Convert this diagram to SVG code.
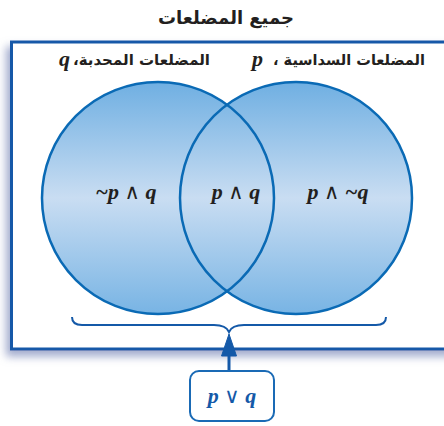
<svg xmlns="http://www.w3.org/2000/svg" width="444" height="426" viewBox="0 0 444 426">
<style>
.ar{font-family:"DejaVu Sans",sans-serif;font-weight:bold;fill:#231f20}
.m{font-family:"Liberation Serif","DejaVu Serif",serif;font-weight:bold;font-style:italic;fill:#231f20;font-size:22px}
.op{font-family:"DejaVu Sans",sans-serif;font-style:normal;font-weight:normal;font-size:21px}
.circ{fill:url(#g);stroke:none}
.ring{fill:none;stroke:#0a6ab5;stroke-width:2.5}
.blue{fill:#1459a8;stroke:#1459a8}
</style>
<defs>
<linearGradient id="g" x1="0" y1="82" x2="0" y2="314" gradientUnits="userSpaceOnUse">
<stop offset="0" stop-color="#6fafe2"/>
<stop offset="0.5" stop-color="#c9ddf2"/>
<stop offset="1" stop-color="#78b4e4"/>
</linearGradient>
<filter id="sh" x="-10%" y="-10%" width="130%" height="130%">
<feGaussianBlur in="SourceAlpha" stdDeviation="4"/>
<feOffset dx="-4" dy="6" result="b"/>
<feFlood flood-color="#7a88b8" flood-opacity="0.7"/>
<feComposite in2="b" operator="in"/>
<feMerge><feMergeNode/><feMergeNode in="SourceGraphic"/></feMerge>
</filter>
</defs>
<rect width="444" height="426" fill="#fff"/>
<text id="title" class="ar" x="226" y="24" font-size="18" text-anchor="middle">جميع المضلعات</text>
<g id="universe">
<rect x="11.5" y="42" width="460" height="307" fill="#fff" stroke="#1459a8" stroke-width="3" filter="url(#sh)"/>
</g>
<g id="setQ">
<circle class="circ" cx="158" cy="198" r="116"/>
</g>
<g id="setP">
<circle class="circ" cx="296" cy="198" r="116"/>
</g>
<g id="rings">
<circle class="ring" cx="158" cy="198" r="116"/>
<circle class="ring" cx="296" cy="198" r="116"/>
</g>
<g id="labels">
<text class="ar" x="73" y="65" font-size="15" textLength="137" lengthAdjust="spacingAndGlyphs">المضلعات المحدبة،&#x200F;</text>
<text class="m" x="59" y="66" font-size="20">q</text>
<text class="ar" x="273" y="65" font-size="15" textLength="152" lengthAdjust="spacingAndGlyphs">المضلعات السداسية ،&#x200F;</text>
<text class="m" x="252" y="66" font-size="20">p</text>
</g>
<g id="regions">
<text class="m" x="126" y="199" text-anchor="middle">~p <tspan class="op">∧</tspan> q</text>
<text class="m" x="236" y="199" text-anchor="middle">p <tspan class="op">∧</tspan> q</text>
<text class="m" x="338" y="199" text-anchor="middle">p <tspan class="op">∧</tspan> ~q</text>
</g>
<g id="connectors">
<path d="M72,317 Q72,325 82,325 L214,325 Q226,325 229,332 Q232,325 244,325 L376,325 Q386,325 386,317" fill="none" stroke="#1459a8" stroke-width="2"/>
<line x1="229" y1="371" x2="229" y2="352" stroke="#1459a8" stroke-width="3"/>
<path d="M229,334 L236.5,356 L221.5,356 Z" class="blue" stroke-width="1"/>
</g>
<g id="union">
<rect x="190" y="371" width="84" height="50" rx="9" fill="#fff" stroke="#1a6ab5" stroke-width="2"/>
<text class="m" x="232" y="403" text-anchor="middle" style="fill:#1459a8">p <tspan class="op">∨</tspan> q</text>
</g>
</svg>
